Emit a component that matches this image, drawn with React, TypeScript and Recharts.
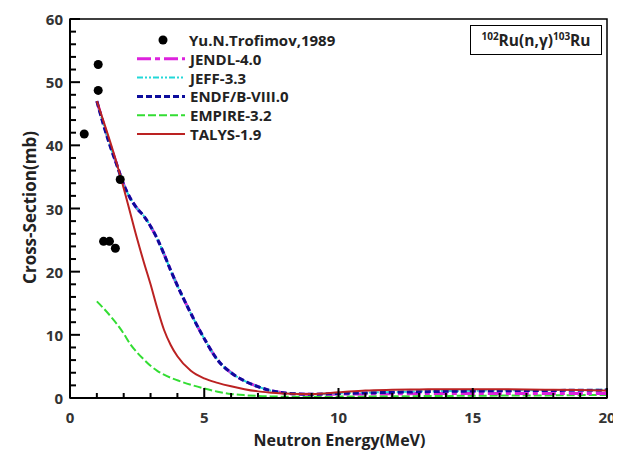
import React from 'react';
import {
  ComposedChart, Line, Scatter, XAxis, YAxis, ReferenceArea, Legend,
} from 'recharts';

// ---------- data ----------
const evalEnergy = [1, 1.25, 1.5, 1.75, 2, 2.25, 2.5, 2.75, 3, 3.25, 3.5, 3.75, 4, 4.5, 5, 5.5, 6, 6.5, 7, 7.5, 8, 8.5, 9, 10, 11, 12, 13, 14, 15, 16, 17, 18, 19, 20];
const endfXs = [47, 43.2, 39.8, 36.8, 33.8, 31.6, 30.0, 28.8, 27.2, 25.2, 22.8, 20.2, 17.8, 13.4, 9.4, 6.0, 4.0, 2.7, 1.8, 1.15, 0.8, 0.65, 0.6, 0.72, 0.8, 0.9, 0.98, 1.05, 1.1, 1.15, 1.18, 1.2, 1.22, 1.25];
const jeffXs = [47, 43.3, 39.9, 36.8, 33.8, 31.6, 30.0, 28.8, 27.2, 25.2, 22.8, 20.2, 17.8, 13.4, 9.4, 6.0, 4.0, 2.7, 1.8, 1.15, 0.8, 0.65, 0.62, 0.75, 0.85, 0.95, 1.05, 1.1, 1.15, 1.2, 1.22, 1.25, 1.27, 1.3];
const jendlXs = [47, 43.4, 40.0, 36.9, 33.8, 31.6, 30.0, 28.8, 27.2, 25.2, 22.8, 20.2, 17.8, 13.4, 9.4, 6.0, 4.0, 2.7, 1.8, 1.15, 0.8, 0.65, 0.6, 0.62, 0.65, 0.68, 0.7, 0.72, 0.72, 0.72, 0.72, 0.72, 0.72, 0.72];
const empireXs = [15.3, 14.2, 13.0, 11.7, 10.2, 8.5, 7.2, 6.1, 5.1, 4.3, 3.7, 3.2, 2.8, 2.1, 1.5, 1.0, 0.65, 0.45, 0.32, 0.25, 0.2, 0.2, 0.2, 0.22, 0.25, 0.28, 0.3, 0.33, 0.35, 0.38, 0.4, 0.42, 0.45, 0.48];
const talysXs = [47, 43.8, 40.5, 37, 33.2, 29.2, 25.2, 21.5, 18, 14.2, 10.8, 8.4, 6.6, 4.3, 3.1, 2.4, 1.85, 1.4, 1.05, 0.85, 0.7, 0.65, 0.65, 0.9, 1.2, 1.3, 1.35, 1.4, 1.4, 1.38, 1.35, 1.3, 1.25, 1.2];

const expEnergy = [0.53, 1.05, 1.05, 1.25, 1.47, 1.69, 1.87];
const expXs = [41.8, 52.8, 48.7, 24.8, 24.8, 23.7, 34.6];

const xTicks = Array.from({ length: 21 }, (_, i) => i);
const yTicks = Array.from({ length: 31 }, (_, i) => i * 2);

const toPoints = (xs: number[], ys: number[]) => xs.map((x, i) => ({ x, y: ys[i] }));

const series = [
  { name: 'JENDL-4.0', color: '#dd22dd', dash: '14 4 5 4', width: 3, data: toPoints(evalEnergy, jendlXs) },
  { name: 'JEFF-3.3', color: '#22d8d8', dash: '6 2 2 2 2 2', width: 2, data: toPoints(evalEnergy, jeffXs) },
  { name: 'ENDF/B-VIII.0', color: '#0c0c9c', dash: '6 3', width: 3, data: toPoints(evalEnergy, endfXs) },
  { name: 'EMPIRE-3.2', color: '#33dd33', dash: '8 3', width: 2, data: toPoints(evalEnergy, empireXs) },
  { name: 'TALYS-1.9', color: '#bb2222', dash: undefined as string | undefined, width: 2, data: toPoints(evalEnergy, talysXs) },
];
const drawOrder = ['EMPIRE-3.2', 'JENDL-4.0', 'JEFF-3.3', 'ENDF/B-VIII.0', 'TALYS-1.9'];
const expData = toPoints(expEnergy, expXs);

const FONT = '"Open Sans", "DejaVu Sans", sans-serif';

const XTick = (props: any) => {
  const { x, y, payload } = props;
  const v = payload.value;
  const major = v % 5 === 0;
  return (
    <g>
      <line x1={x} y1={y} x2={x} y2={y - (major ? 10 : 5)} stroke="#000" strokeWidth={2} />
      {major && (
        <text x={x} y={y + 19} textAnchor="middle" dominantBaseline="central"
          fontFamily={FONT} fontWeight={700} fontSize={15} fill="#333">{v}</text>
      )}
    </g>
  );
};

const YTick = (props: any) => {
  const { x, y, payload } = props;
  const v = payload.value;
  const major = v % 10 === 0;
  return (
    <g>
      <line x1={x} y1={y} x2={x + (major ? 10 : 6)} y2={y} stroke="#000" strokeWidth={2} />
      {major && (
        <text x={x - 7} y={y} textAnchor="end" dominantBaseline="central"
          fontFamily={FONT} fontWeight={700} fontSize={15} fill="#333">{v}</text>
      )}
    </g>
  );
};

const LegendBox = () => (
  <svg width={260} height={125} style={{ display: 'block' }}>
    <circle cx={35} cy={10} r={4.5} fill="#000" />
    <text x={61} y={10} dominantBaseline="central" fontFamily={FONT} fontWeight={700} fontSize={15} fill="#222">Yu.N.Trofimov,1989</text>
    {series.map((s, i) => {
      const yy = 10 + 18.8 * (i + 1);
      return (
        <g key={s.name}>
          <line x1={9} y1={yy} x2={57} y2={yy} stroke={s.color} strokeWidth={s.width} strokeDasharray={s.dash} />
          <text x={62} y={yy} dominantBaseline="central" fontFamily={FONT} fontWeight={700} fontSize={15} fill="#222">{s.name}</text>
        </g>
      );
    })}
  </svg>
);

export default function App() {
  return (
    <div style={{ position: 'relative', width: 613, height: 447 }}>
      <ComposedChart width={613} height={447} margin={{ top: 11, right: 14, bottom: 0, left: 0 }}>
        <XAxis dataKey="x" type="number" domain={[0, 20]} ticks={xTicks} interval={0}
          allowDataOverflow height={57} tickSize={0} tickMargin={0} tickLine={false}
          axisLine={{ stroke: '#000', strokeWidth: 2 }} tick={<XTick />}
          label={(p: any) => {
            const vb = p.viewBox || { x: 62, y: 390, width: 537, height: 57 };
            return (
              <text x={vb.x + vb.width / 2 + 1} y={vb.y + 48} textAnchor="middle"
                fontFamily={FONT} fontWeight={700} fontSize={16} fill="#222">Neutron Energy(MeV)</text>
            );
          }} />
        <YAxis dataKey="y" type="number" domain={[0, 60]} ticks={yTicks} interval={0}
          allowDataOverflow width={62} tickSize={0} tickMargin={0} tickLine={false}
          axisLine={{ stroke: '#000', strokeWidth: 2 }} tick={<YTick />}
          label={(p: any) => {
            const vb = p.viewBox || { x: 0, y: 11, width: 62, height: 379 };
            const cx = vb.x + 21;
            const cy = vb.y + vb.height / 2 - 1;
            return (
              <text x={cx} y={cy} textAnchor="middle" dominantBaseline="central"
                transform={`rotate(-90 ${cx} ${cy})`}
                fontFamily={FONT} fontWeight={700} fontSize={17} fill="#222">Cross-Section(mb)</text>
            );
          }} />
        <ReferenceArea x1={0} x2={20} y1={0} y2={60} fill="none" stroke="#000" strokeWidth={1.5} />
        {drawOrder.map((n) => {
          const s = series.find((q) => q.name === n)!;
          return (
            <Line key={s.name} data={s.data} dataKey="y" name={s.name} type="monotone"
              stroke={s.color} strokeWidth={s.width} strokeDasharray={s.dash}
              dot={false} activeDot={false} isAnimationActive={false} />
          );
        })}
        <Scatter data={expData} dataKey="y" name="Yu.N.Trofimov,1989" isAnimationActive={false}
          shape={(p: any) => <circle cx={p.cx} cy={p.cy} r={4.5} fill="#000" />} />
        <Legend layout="vertical" align="center" verticalAlign="middle"
          wrapperStyle={{ position: 'absolute', left: 120, top: 22, width: 260, height: 125 }}
          content={() => <LegendBox />} />
      </ComposedChart>
      <div style={{
        position: 'absolute', left: 462, top: 17, width: 130, height: 28,
        border: '1.5px solid #000', display: 'flex', alignItems: 'center', justifyContent: 'center',
        fontFamily: FONT, fontWeight: 700, fontSize: 15.5, color: '#222', background: '#fff',
      }}>
        <span><sup style={{ fontSize: 10 }}>102</sup>Ru(n,γ)<sup style={{ fontSize: 10 }}>103</sup>Ru</span>
      </div>
    </div>
  );
}
